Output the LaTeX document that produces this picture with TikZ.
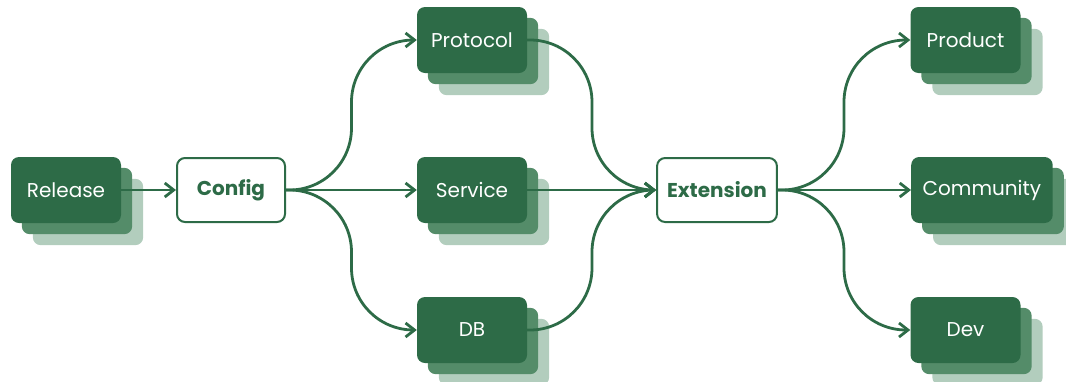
\documentclass[tikz,border=0pt]{standalone}
\usepackage{fontspec}
\setmainfont{Poppins}
\usetikzlibrary{arrows.meta,backgrounds}
\definecolor{gdark}{HTML}{2D6B47}
\definecolor{gmid}{HTML}{548C69}
\definecolor{glight}{HTML}{B2CDBD}
\tikzset{
  x=1pt,y=-1pt,
  darkbox/.style={fill=gdark,text=white,rounded corners=8pt,minimum width=110pt,minimum height=66pt,inner xsep=11.5pt,font=\fontsize{20}{24}\selectfont},
  whitebox/.style={draw=gdark,line width=2pt,fill=white,text=gdark,rounded corners=8pt,minimum width=108pt,minimum height=64pt,inner xsep=10pt,font=\fontsize{20}{24}\selectfont\bfseries},
  conn/.style={draw=gdark,line width=2.8pt,-{Straight Barb[length=9pt,width=14pt,line width=2.8pt]}},
  curved/.style={conn,rounded corners=62pt},
}
\newcommand{\stackback}[1]{%
  \begin{pgfonlayer}{background}
  \fill[glight,rounded corners=8pt] ([shift={(22pt,-22pt)}]#1.south west) rectangle ([shift={(22pt,-22pt)}]#1.north east);
  \fill[gmid,rounded corners=8pt] ([shift={(11pt,-11pt)}]#1.south west) rectangle ([shift={(11pt,-11pt)}]#1.north east);
  \end{pgfonlayer}}
\begin{document}
\begin{tikzpicture}
\useasboundingbox (0,0) rectangle (1066,381);
\node[darkbox] (rel) at (66,190) {Release};
\node[whitebox] (cfg) at (231,190) {Config};
\node[darkbox] (pro) at (472,40) {Protocol};
\node[darkbox] (ser) at (472,190) {Service};
\node[darkbox] (db) at (472,330) {DB};
\node[whitebox,minimum width=118pt] (ext) at (717,190) {Extension};
\node[darkbox] (prd) at (965.5,40) {Product};
\node[darkbox,anchor=west] (com) at (911,190) {Community};
\node[darkbox] (dev) at (965.5,330) {Dev};
\stackback{rel}\stackback{pro}\stackback{ser}\stackback{db}\stackback{prd}\stackback{com}\stackback{dev}
\draw[conn] (rel.east) -- (cfg.west);
\draw[curved] (cfg.east) -- (351.5,190) -- (351.5,40) -- (pro.west);
\draw[conn] (cfg.east) -- (ser.west);
\draw[curved] (cfg.east) -- (351.5,190) -- (351.5,330) -- (db.west);
\draw[curved] (pro.east) -- (592,40) -- (592,190) -- (ext.west);
\draw[conn] (ser.east) -- (ext.west);
\draw[curved] (db.east) -- (592,330) -- (592,190) -- (ext.west);
\draw[curved] (ext.east) -- (844,190) -- (844,40) -- (prd.west);
\draw[conn] (ext.east) -- (com.west);
\draw[curved] (ext.east) -- (844,190) -- (844,330) -- (dev.west);
\end{tikzpicture}
\end{document}
